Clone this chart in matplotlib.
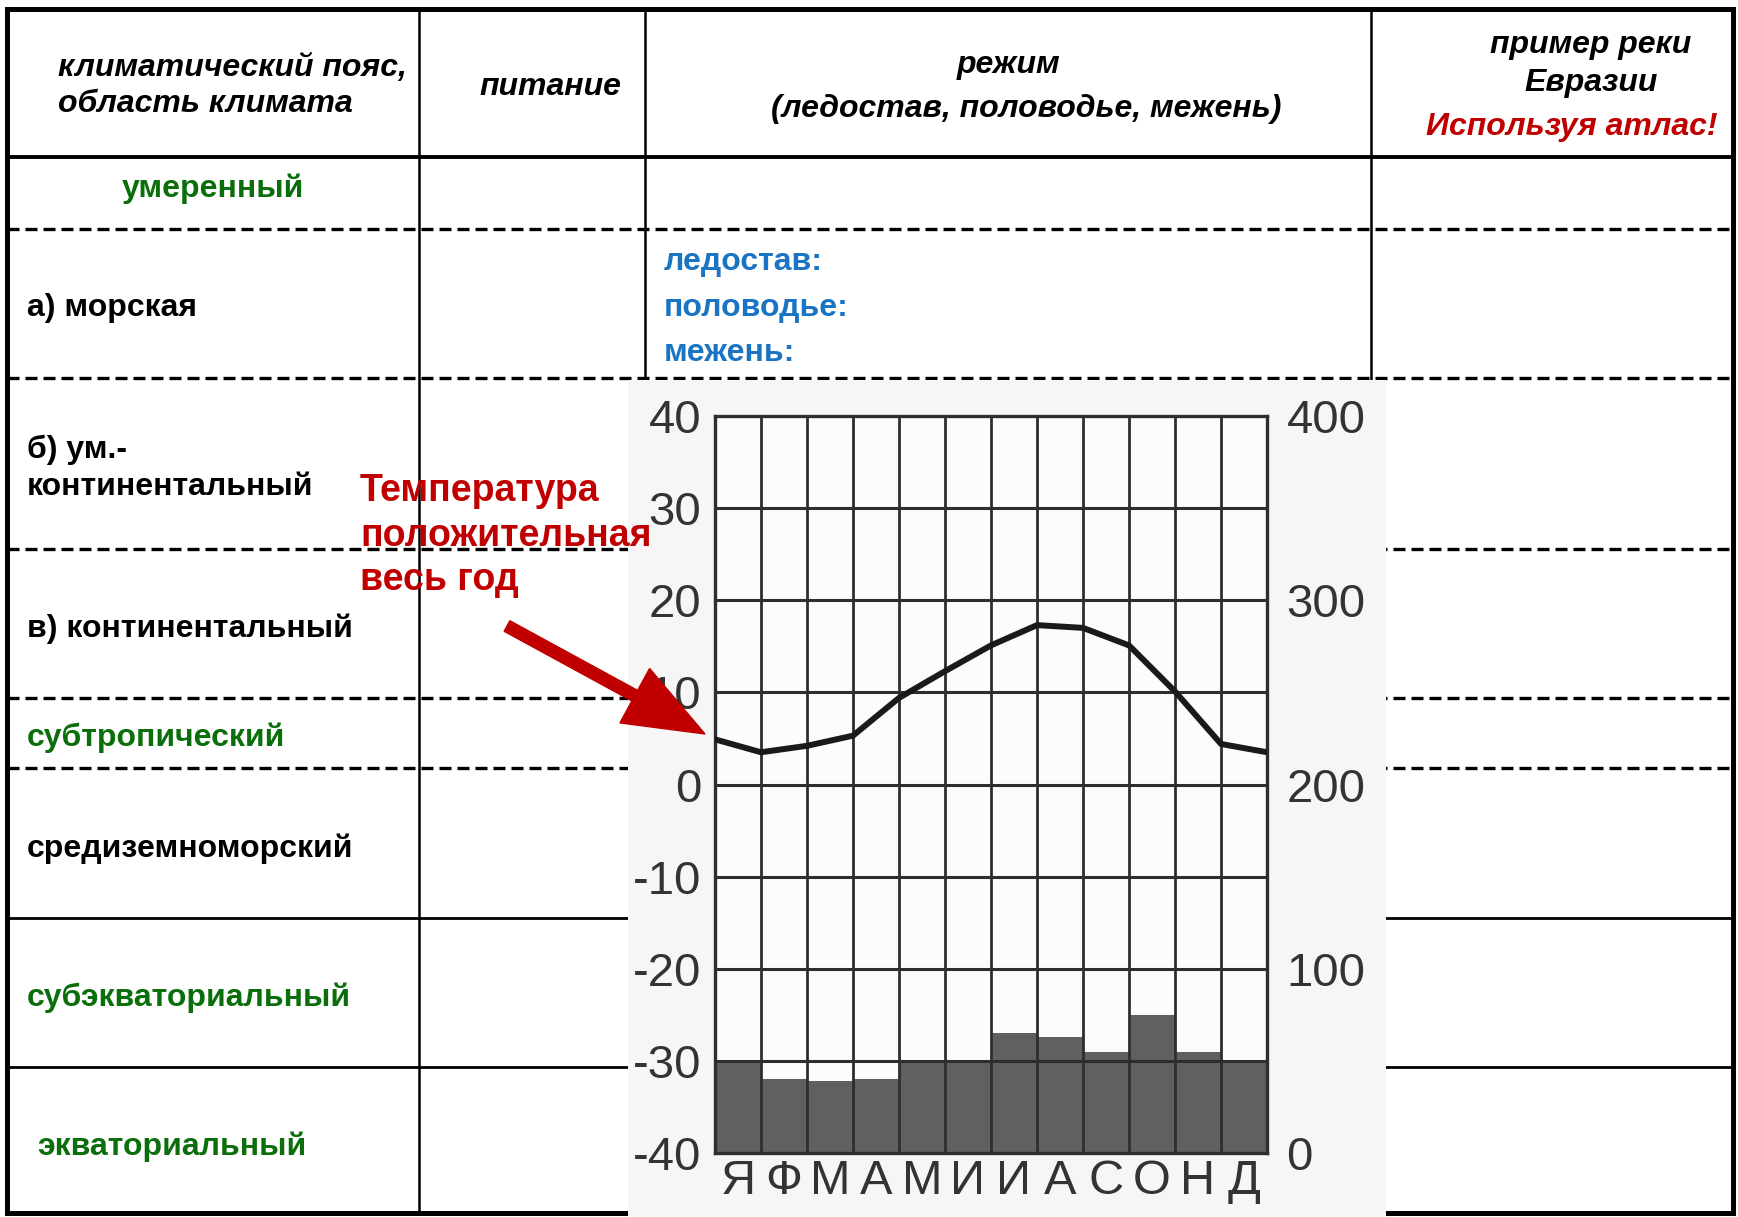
import matplotlib
matplotlib.use("Agg")
import matplotlib.pyplot as plt
from matplotlib.patches import Rectangle, FancyArrow
import numpy as np

plt.rcParams['font.family'] = ['Liberation Sans', 'DejaVu Sans']

# ---------------- data ----------------
months = ["Я", "Ф", "М", "А", "М", "И", "И", "А", "С", "О", "Н", "Д"]
# temperature read at month boundaries (start of Jan ... end of Dec)
temp_x = [0, 1, 2, 3, 4, 5, 6, 7, 8, 9, 10, 11, 12]
temp_values = [4.9, 3.5, 4.2, 5.3, 9.4, 12.3, 15.1, 17.3, 17.0, 15.1, 10.1, 4.4, 3.5]
precip_values = [50, 40, 39, 40, 50, 50, 65, 63, 55, 75, 55, 50]
temp_ticks = [-40, -30, -20, -10, 0, 10, 20, 30, 40]
precip_ticks = [0, 100, 200, 300, 400]

header_texts = ["климатический пояс,\nобласть климата", "питание", "режим",
                "(ледостав, половодье, межень)", "пример реки\nЕвразии", "Используя атлас!"]
regime_labels = ["ледостав:", "половодье:", "межень:"]
annotation = ["Температура", "положительная", "весь год"]

W, H = 1738, 1217
fig = plt.figure(figsize=(W / 100, H / 100), dpi=100)
fig.patch.set_facecolor("white")

# background axes in pixel coordinates
bg = fig.add_axes([0, 0, 1, 1])
bg.set_xlim(0, W)
bg.set_ylim(H, 0)
bg.axis("off")
bg.set_zorder(0)

GREEN = "#0a6e0a"
BLUE = "#1a74c4"
RED = "#c00000"

# table lines
dash = (0, (3.6, 1.8))
bg.add_patch(Rectangle((7, 9), 1726, 1204, fill=False, lw=3.6, ec="black", zorder=2))
bg.plot([7, 1733], [157, 157], color="black", lw=2.8, zorder=2)
for x in [419, 645, 1371]:
    bg.plot([x, x], [9, 1213], color="black", lw=1.8, zorder=2)
for y in [229, 378, 549, 698, 768]:
    bg.plot([7, 1733], [y, y], color="black", lw=2.4, linestyle=dash, zorder=2)
for y in [918, 1067]:
    bg.plot([7, 1733], [y, y], color="black", lw=2.0, zorder=2)

# header texts
hfs = 23
kw = dict(fontsize=hfs, fontweight="bold", fontstyle="italic", va="center")
bg.text(58, 86, header_texts[0], ha="left", linespacing=1.3, **kw)
bg.text(550, 87, header_texts[1], ha="center", **kw)
bg.text(1009, 65, header_texts[2], ha="center", **kw)
bg.text(1026, 109, header_texts[3], ha="center", **kw)
bg.text(1591, 64, header_texts[4], ha="center", linespacing=1.35, **kw)
bg.text(1572, 127, header_texts[5], ha="center", color=RED, **kw)

# body texts
bfs = 23
bk = dict(fontsize=bfs, fontweight="bold", va="center")
bg.text(213, 189, "умеренный", color=GREEN, ha="center", **bk)
bg.text(27, 308, "а) морская", ha="left", **bk)
for lbl, y in zip(regime_labels, [262, 308, 353]):
    bg.text(664, y, lbl, color=BLUE, ha="left", **bk)
bg.text(27, 450, "б) ум.-", ha="left", **bk)
bg.text(27, 487, "континентальный", ha="left", **bk)
bg.text(27, 629, "в) континентальный", ha="left", **bk)
bg.text(27, 738, "субтропический", color=GREEN, ha="left", **bk)
bg.text(27, 849, "средиземноморский", ha="left", **bk)
bg.text(27, 998, "субэкваториальный", color=GREEN, ha="left", **bk)
bg.text(37, 1147, "экваториальный", color=GREEN, ha="left", **bk)

# scanned-image background covering the table
bg.add_patch(Rectangle((628, 380), 1386 - 628, H - 380, fc="#f6f6f6", ec="none", zorder=10))

# ---------------- climate chart ----------------
px0, px1 = 715, 1267
py0, py1 = 416, 1153
rect = [px0 / W, 1 - py1 / H, (px1 - px0) / W, (py1 - py0) / H]

ax2 = fig.add_axes(rect)
ax2.set_zorder(1)
ax2.set_facecolor("#fcfcfc")
ax2.set_xlim(0, 12)
ax2.set_ylim(0, 400)
ax2.bar(np.arange(12) + 0.5, precip_values, width=1.0, color="#606060", edgecolor="none")
ax2.yaxis.tick_right()
ax2.set_yticks(precip_ticks)
ax2.set_yticklabels([str(v) for v in precip_ticks])
ax2.tick_params(axis="y", length=0, pad=14, labelsize=34, labelcolor="#333333")
ax2.set_xticks([])
for s in ax2.spines.values():
    s.set_visible(False)

ax1 = fig.add_axes(rect)
ax1.set_zorder(2)
ax1.patch.set_visible(False)
ax1.set_xlim(0, 12)
ax1.set_ylim(-40, 40)
ax1.set_yticks(temp_ticks)
ax1.set_yticklabels([str(v) for v in temp_ticks])
ax1.set_xticks(np.arange(12) + 0.5)
ax1.set_xticklabels(months)
ax1.tick_params(axis="y", length=0, pad=10, labelsize=34, labelcolor="#333333")
ax1.tick_params(axis="x", length=0, pad=4, labelsize=35, labelcolor="#333333")
grid_c = "#2e2e2e"
for t in temp_ticks[1:-1]:
    ax1.axhline(t, color=grid_c, lw=2.2, zorder=3)
for m in range(1, 12):
    ax1.axvline(m, color=grid_c, lw=2.0, zorder=3)
for s in ax1.spines.values():
    s.set_color(grid_c)
    s.set_linewidth(2.4)
ax1.plot(temp_x, temp_values, color="#1a1a1a", lw=4.3, solid_joinstyle="round",
         solid_capstyle="round", zorder=4, clip_on=True)

# ---------------- overlay: annotation ----------------
ov = fig.add_axes([0, 0, 1, 1])
ov.set_xlim(0, W)
ov.set_ylim(H, 0)
ov.axis("off")
ov.set_zorder(5)
for txt, y in zip(annotation, [491, 536, 580]):
    ov.text(360, y, txt, fontsize=27, fontweight="bold", color=RED, ha="left", va="center")
ov.add_patch(FancyArrow(507, 626, 705 - 507, 734 - 626, width=12, head_width=62,
                        head_length=80, length_includes_head=True, fc=RED, ec=RED, zorder=6))

fig.savefig("out.png", dpi=100, facecolor="white")
